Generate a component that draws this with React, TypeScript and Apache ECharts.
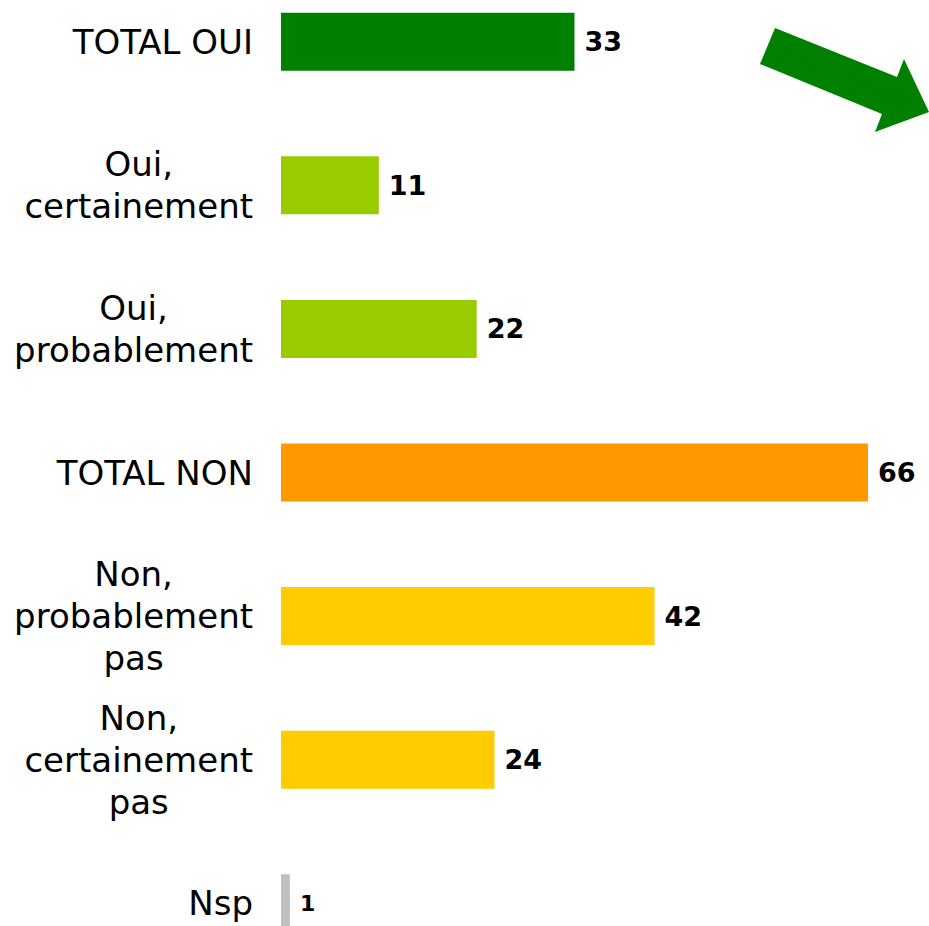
import React, { useEffect, useRef } from "react";
import * as echarts from "echarts";

const categories = [
  "TOTAL OUI",
  "Oui,\ncertainement",
  "Oui,\nprobablement",
  "TOTAL NON",
  "Non,\nprobablement\npas",
  "Non,\ncertainement\npas",
  "Nsp",
];
const values = [33, 11, 22, 66, 42, 24, 1];
const barColors = ["#008000", "#99CC00", "#99CC00", "#FF9900", "#FFCC00", "#FFCC00", "#C0C0C0"];
const labelSizes = [27, 27, 27, 27, 27, 27, 22];

const OFFSET_TOP = 30;

export default function App() {
  const ref = useRef<HTMLDivElement>(null);
  useEffect(() => {
    if (!ref.current) return;
    const chart = echarts.init(ref.current, null, { renderer: "svg" });
    chart.setOption({
      animation: false,
      backgroundColor: "#ffffff",
      grid: { left: 281, right: 61, top: 0, bottom: 0 },
      xAxis: {
        type: "value",
        min: 0,
        max: 66,
        show: false,
      },
      yAxis: {
        type: "category",
        inverse: true,
        data: categories,
        axisLine: { show: false },
        axisTick: { show: false },
        splitLine: { show: false },
        axisLabel: {
          margin: 28,
          align: "right",
          formatter: (v: string) =>
            v
              .split("\n")
              .map((line) => `{c|${line}}`)
              .join("\n"),
          rich: {
            c: {
              align: "center",
              fontFamily: "DejaVu Sans",
              fontSize: 34,
              lineHeight: 42,
              color: "#000000",
            },
          },
        },
      },
      series: [
        {
          type: "bar",
          barWidth: 58,
          data: values.map((v, i) => ({
            value: v,
            itemStyle: { color: barColors[i] },
            label: { fontSize: labelSizes[i] },
          })),
          label: {
            show: true,
            position: "right",
            distance: 10,
            fontFamily: "DejaVu Sans",
            fontWeight: "bold",
            color: "#000000",
          },
        },
      ],
      graphic: [
        {
          type: "polygon",
          shape: {
            points: [
              [775, 28 + OFFSET_TOP],
              [897, 77 + OFFSET_TOP],
              [904, 59 + OFFSET_TOP],
              [929, 112 + OFFSET_TOP],
              [875, 132 + OFFSET_TOP],
              [882, 114 + OFFSET_TOP],
              [760, 64 + OFFSET_TOP],
            ],
          },
          style: { fill: "#008000" },
        },
      ],
    });
    return () => chart.dispose();
  }, []);
  return (
    <div
      style={{
        position: "fixed",
        left: 0,
        top: 0,
        width: 929,
        height: 926,
        overflow: "hidden",
        background: "#ffffff",
      }}
    >
      <div
        ref={ref}
        style={{ position: "absolute", left: 0, top: -OFFSET_TOP, width: 929, height: 1005 }}
      />
    </div>
  );
}
